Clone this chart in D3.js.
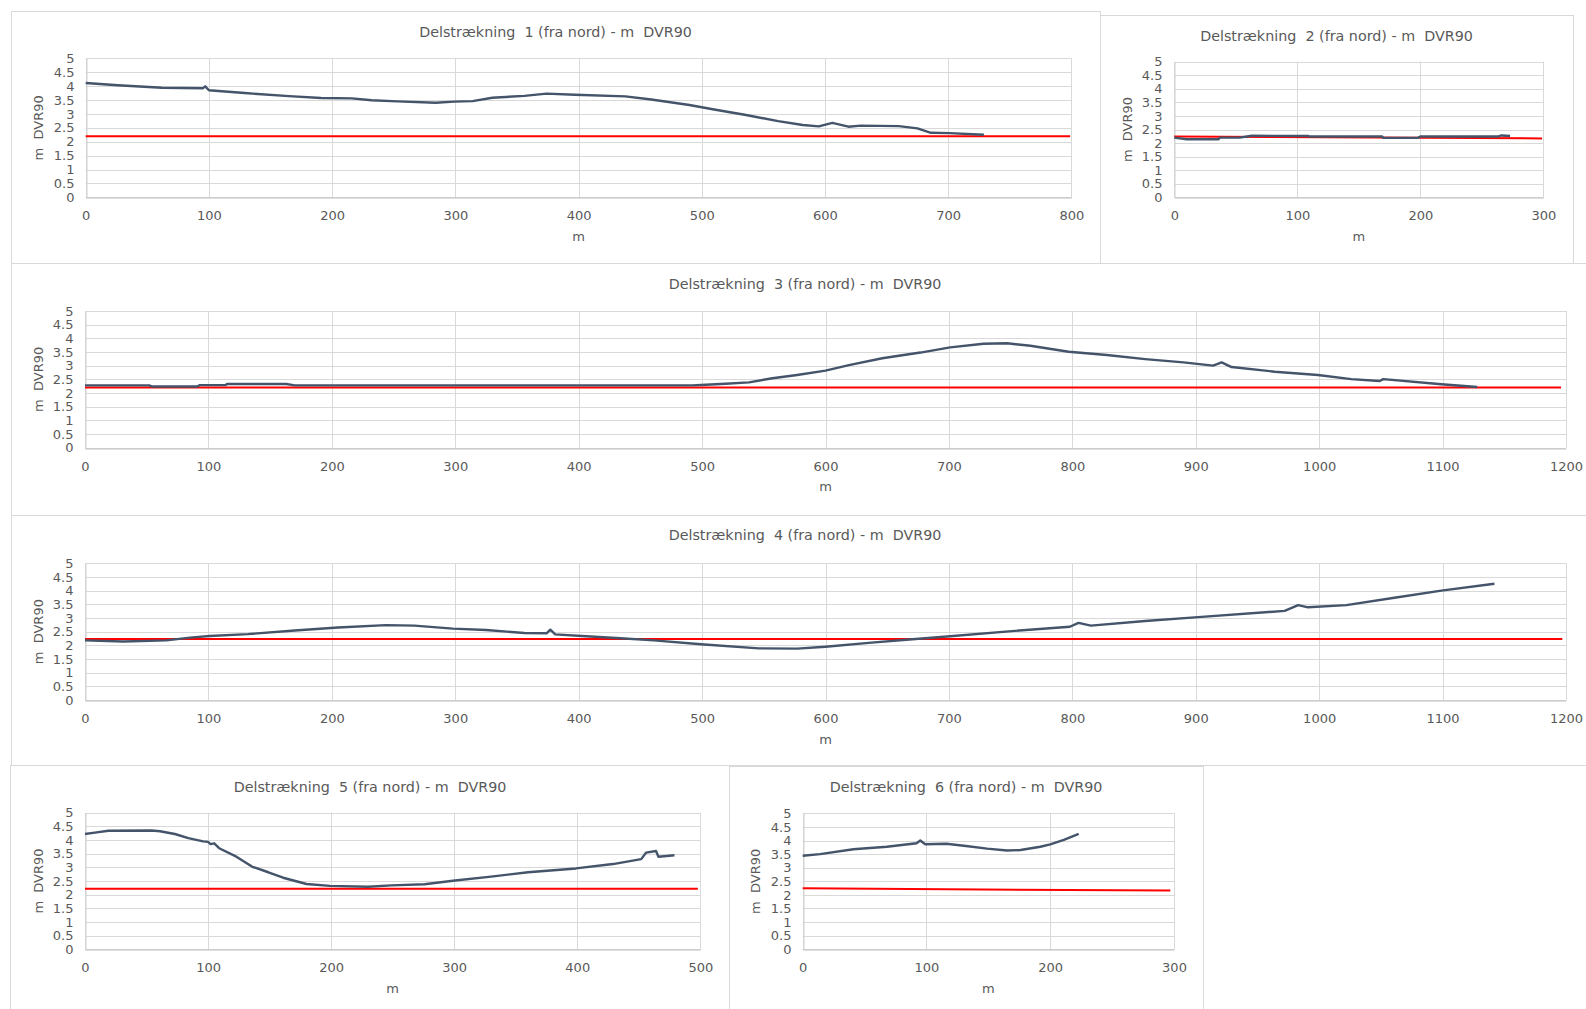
<!DOCTYPE html>
<html>
<head>
<meta charset="utf-8">
<script src="https://cdn.jsdelivr.net/npm/d3@7"></script>
<style>
  html, body { margin: 0; padding: 0; background: #ffffff; }
  svg { display: block; }
  text { font-family: "DejaVu Sans", Verdana, sans-serif; fill: #595959; }
</style>
</head>
<body>
<svg id="chart" width="1586" height="1009"></svg>
<script>
// ---------------- DATA ----------------
const titles = [
  "Delstrækning  1 (fra nord) - m  DVR90",
  "Delstrækning  2 (fra nord) - m  DVR90",
  "Delstrækning  3 (fra nord) - m  DVR90",
  "Delstrækning  4 (fra nord) - m  DVR90",
  "Delstrækning  5 (fra nord) - m  DVR90",
  "Delstrækning  6 (fra nord) - m  DVR90"
];
const yTicks = [0, 0.5, 1, 1.5, 2, 2.5, 3, 3.5, 4, 4.5, 5];
const xMaxes = [800, 300, 1200, 1200, 500, 300];
const xAxisTitle = "m";
const yAxisTitle = "m  DVR90";

// terrain profiles [distance m, elevation m DVR90]
const profile1 = [[0,4.11],[26,4.03],[62,3.94],[95,3.92],[97,3.99],[100,3.85],[129,3.75],[165,3.64],[191,3.57],[216,3.56],[232,3.49],[253,3.45],[284,3.40],[299,3.44],[314,3.46],[330,3.58],[356,3.65],[374,3.73],[397,3.69],[438,3.63],[459,3.52],[490,3.32],[510,3.16],[536,2.96],[562,2.74],[582,2.60],[595,2.55],[606,2.68],[619,2.54],[629,2.58],[660,2.56],[675,2.48],[686,2.32],[701,2.31],[729,2.25]];
const profile2 = [[0,2.20],[10,2.14],[36,2.14],[37,2.20],[53,2.20],[63,2.27],[109,2.26],[110,2.24],[169,2.24],[170,2.19],[198,2.19],[200,2.24],[263,2.24],[266,2.28],[273,2.26]];
const profile3 = [[0,2.28],[52,2.28],[54,2.24],[64,2.24],[91,2.24],[93,2.29],[114,2.29],[115,2.33],[163,2.33],[170,2.28],[492,2.28],[503,2.30],[519,2.34],[538,2.39],[557,2.54],[577,2.66],[600,2.82],[619,3.02],[646,3.27],[677,3.48],[701,3.67],[728,3.80],[747,3.82],[766,3.73],[797,3.51],[828,3.39],[859,3.24],[890,3.12],[914,3.00],[921,3.12],[929,2.95],[964,2.78],[999,2.66],[1026,2.51],[1049,2.44],[1052,2.51],[1099,2.32],[1128,2.22]];
const profile4 = [[0,2.18],[31,2.14],[66,2.18],[85,2.28],[101,2.34],[132,2.41],[170,2.54],[205,2.65],[244,2.74],[267,2.72],[298,2.61],[325,2.56],[356,2.45],[374,2.44],[377,2.57],[381,2.40],[406,2.33],[434,2.26],[461,2.18],[499,2.04],[546,1.89],[577,1.88],[600,1.95],[635,2.09],[673,2.23],[701,2.33],[751,2.52],[798,2.68],[805,2.82],[815,2.72],[859,2.89],[902,3.03],[972,3.26],[983,3.47],[991,3.39],[1022,3.47],[1061,3.74],[1099,4.00],[1142,4.25]];
const profile5 = [[0,4.22],[8,4.27],[19,4.34],[54,4.35],[61,4.32],[73,4.22],[84,4.07],[96,3.95],[100,3.93],[102,3.85],[105,3.88],[109,3.70],[123,3.39],[136,3.02],[149,2.82],[161,2.62],[180,2.39],[199,2.32],[230,2.29],[249,2.34],[276,2.38],[299,2.51],[330,2.66],[360,2.82],[399,2.96],[429,3.12],[452,3.30],[456,3.54],[464,3.60],[466,3.39],[479,3.44]];
const profile6 = [[0,3.44],[14,3.50],[41,3.68],[68,3.77],[92,3.90],[95,4.00],[99,3.86],[116,3.88],[132,3.80],[149,3.70],[165,3.63],[176,3.65],[192,3.77],[200,3.86],[211,4.02],[223,4.24]];

// reference level lines [distance m, level m DVR90]
const limit1 = [[0,2.20],[799,2.20]];
const limit2 = [[0,2.24],[299,2.17]];
const limit3 = [[0,2.20],[1196,2.20]];
const limit4 = [[0,2.23],[1197,2.23]];
const limit5 = [[0,2.22],[498,2.22]];
const limit6 = [[0,2.24],[297,2.16]];

const profiles = [profile1, profile2, profile3, profile4, profile5, profile6];
const limits = [limit1, limit2, limit3, limit4, limit5, limit6];

// ---------------- LAYOUT ----------------
const layout = [
  { box:[11,11,1100,263],  plot:[85.7,58.3,1071.4,197.3],  titleX:555.5, titleY:31.7 },
  { box:[1100,15,1573,263], plot:[1174.3,61.7,1543.3,197.3], titleX:1336.5, titleY:36 },
  { box:[11,263,1600,515], plot:[85,311,1566,447.7],      titleX:805, titleY:284 },
  { box:[11,515,1600,765], plot:[85,563.3,1566,700],      titleX:805, titleY:535 },
  { box:[10,765,730,1020], plot:[85,812.7,700.3,949.3],   titleX:370, titleY:786.7 },
  { box:[729,766,1203,1020], plot:[802.7,813.3,1174,949.3], titleX:966, titleY:786.7 }
];

const svg = d3.select("#chart");
svg.append("rect").attr("width",1586).attr("height",1009).attr("fill","#fff");

layout.forEach((L, i) => {
  const g = svg.append("g");
  const [bx0, by0, bx1, by1] = L.box;
  g.append("rect")
    .attr("x", bx0 + 0.5).attr("y", by0 + 0.5)
    .attr("width", bx1 - bx0).attr("height", by1 - by0)
    .attr("fill", "#fff").attr("stroke", "#d9d9d9").attr("stroke-width", 1);

  const [px0, py0, px1, py1] = L.plot;
  const x = d3.scaleLinear().domain([0, xMaxes[i]]).range([px0, px1]);
  const y = d3.scaleLinear().domain([0, 5]).range([py1, py0]);
  const xTicks = d3.range(0, xMaxes[i] + 1, 100);

  // gridlines
  g.append("g").selectAll("line.h").data(yTicks).join("line")
    .attr("x1", px0).attr("x2", px1)
    .attr("y1", d => Math.round(y(d)) + 0.5).attr("y2", d => Math.round(y(d)) + 0.5)
    .attr("stroke", "#d9d9d9").attr("stroke-width", 1);
  g.append("g").selectAll("line.v").data(xTicks).join("line")
    .attr("y1", py0).attr("y2", py1)
    .attr("x1", d => Math.round(x(d)) + 0.5).attr("x2", d => Math.round(x(d)) + 0.5)
    .attr("stroke", "#d9d9d9").attr("stroke-width", 1);

  // axes
  const xAxis = d3.axisBottom(x).tickValues(xTicks).tickSize(0).tickPadding(13)
    .tickFormat(d3.format("d"));
  const gx = g.append("g").attr("transform", `translate(0,${Math.round(py1) + 0.5})`).call(xAxis);
  gx.select(".domain").attr("stroke", "#bfbfbf");
  gx.selectAll("text").style("font-size", "13px").attr("fill", "#595959")
    .style("font-family", '"DejaVu Sans", Verdana, sans-serif');

  const yAxis = d3.axisLeft(y).tickValues(yTicks).tickSize(0).tickPadding(12)
    .tickFormat(d => String(d));
  const gy = g.append("g").attr("transform", `translate(${Math.round(px0) + 0.5},0)`).call(yAxis);
  gy.select(".domain").attr("stroke", "#d0d0d0");
  gy.selectAll("text").style("font-size", "13px").attr("fill", "#595959")
    .style("font-family", '"DejaVu Sans", Verdana, sans-serif');

  // reference line
  const line = d3.line().x(d => x(d[0])).y(d => y(d[1]));
  g.append("path").datum(limits[i]).attr("d", line)
    .attr("fill", "none").attr("stroke", "#ff0000").attr("stroke-width", 2);

  // profile line
  g.append("path").datum(profiles[i]).attr("d", line)
    .attr("fill", "none").attr("stroke", "#44546a").attr("stroke-width", 2.4)
    .attr("stroke-linejoin", "round");

  // titles
  g.append("text").attr("x", L.titleX).attr("y", L.titleY).attr("dy", "0.35em")
    .attr("text-anchor", "middle").style("white-space", "pre").style("font-size", "14.3px")
    .text(titles[i]);
  g.append("text").attr("x", (px0 + px1) / 2).attr("y", py1 + 39).attr("dy", "0.35em")
    .attr("text-anchor", "middle").style("font-size", "13px").text(xAxisTitle);
  g.append("text")
    .attr("transform", `translate(${px0 - 47},${(py0 + py1) / 2}) rotate(-90)`)
    .attr("dy", "0.35em").attr("text-anchor", "middle").style("white-space", "pre")
    .style("font-size", "13px").text(yAxisTitle);
});
</script>
</body>
</html>
